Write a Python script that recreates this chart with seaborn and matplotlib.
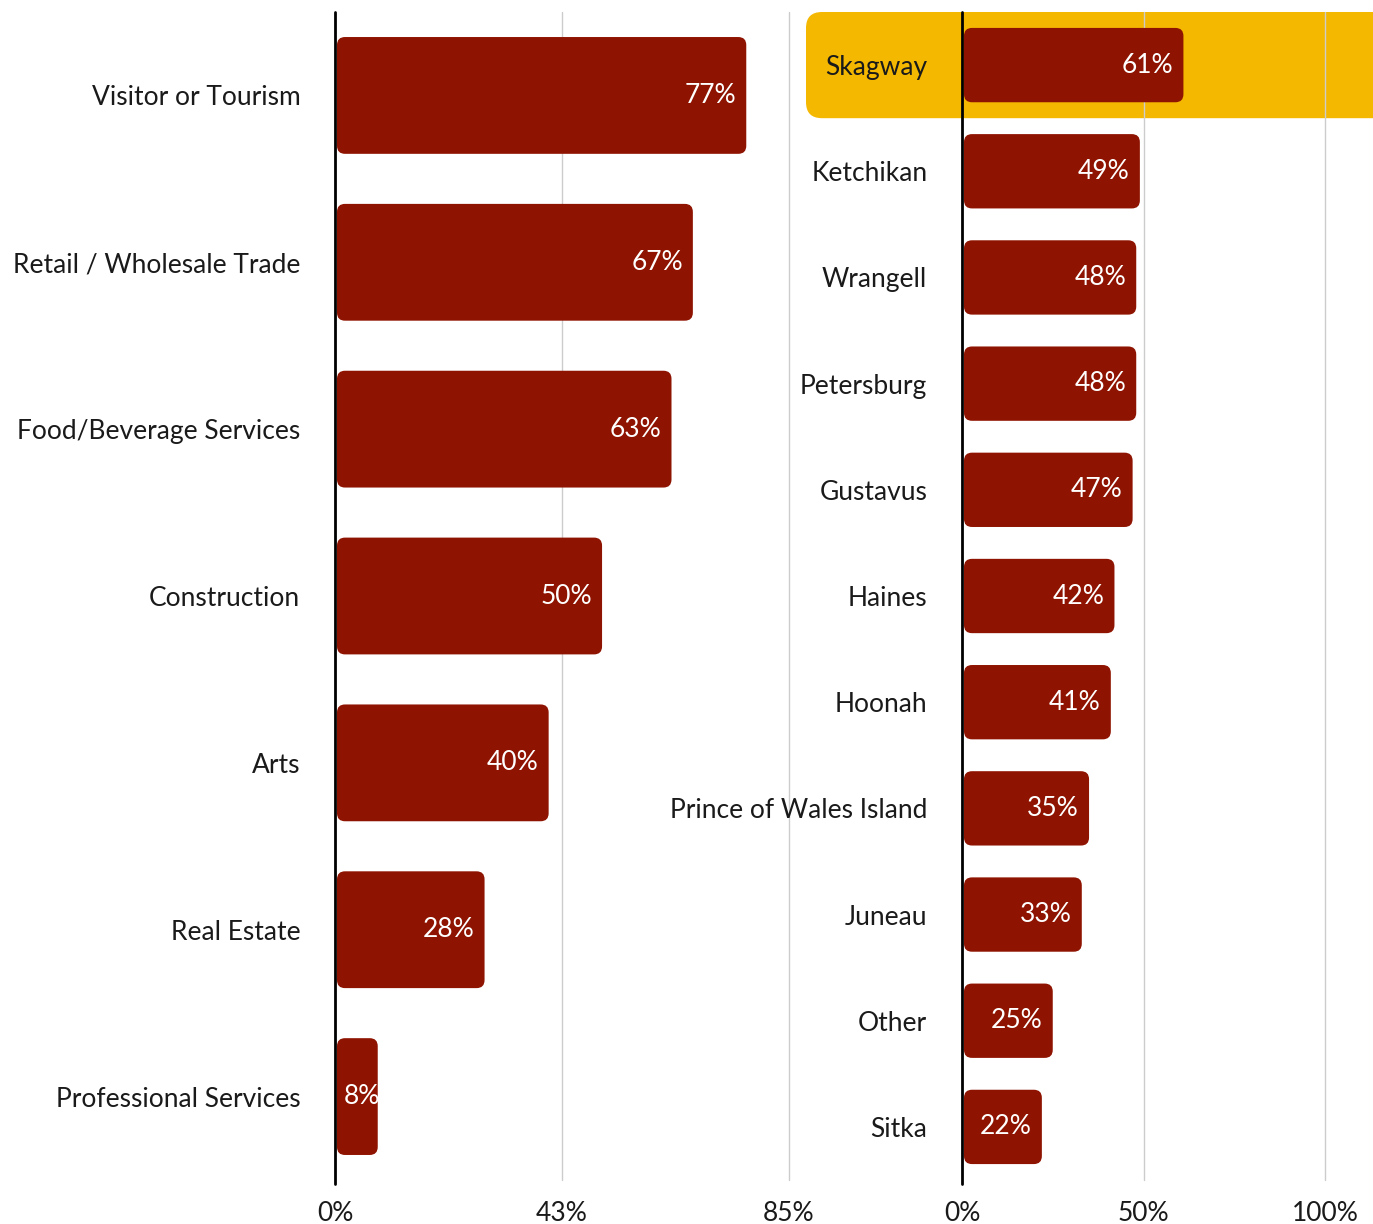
import matplotlib
matplotlib.use("Agg")
import matplotlib.pyplot as plt
import seaborn as sns
import pandas as pd
from matplotlib.patches import FancyBboxPatch
from matplotlib.transforms import IdentityTransform

# data
industries = ["Visitor or Tourism", "Retail / Wholesale Trade", "Food/Beverage Services",
              "Construction", "Arts", "Real Estate", "Professional Services"]
industry_pct = [77, 67, 63, 50, 40, 28, 8]
left_ticks = [0, 42.5, 85]

communities = ["Skagway", "Ketchikan", "Wrangell", "Petersburg", "Gustavus", "Haines",
               "Hoonah", "Prince of Wales Island", "Juneau", "Other", "Sitka"]
community_pct = [61, 49, 48, 48, 47, 42, 41, 35, 33, 25, 22]
right_ticks = [0, 50, 100]
highlight = "Skagway"

BAR = "#8E1300"
GOLD = "#F5B800"
GRID = "#CCCCCC"
TEXT = "#1A1A1A"
FS = 19

sns.set_theme(style="white")
plt.rcParams["font.family"] = ["Lato", "DejaVu Sans"]

W, H = 1373, 1224
fig = plt.figure(figsize=(W / 100, H / 100), dpi=100)
fig.patch.set_facecolor("white")

# axes placed in pixel terms
ax1 = fig.add_axes([335 / W, 44 / H, 454 / W, 1168 / H])
ax2 = fig.add_axes([962 / W, 44 / H, 411 / W, 1168 / H])


def round_bars(ax, radius_px=8):
    p0 = ax.transData.transform((0, 0))
    p1 = ax.transData.transform((1, 1))
    ux = abs(p1[0] - p0[0])
    uy = abs(p1[1] - p0[1])
    gap = 2 / ux  # small gap between the zero line and the bar
    for bar in list(ax.patches):
        x, y = bar.get_x(), bar.get_y()
        w, h = bar.get_width(), bar.get_height()
        bar.remove()
        ax.add_patch(FancyBboxPatch((x + gap, y), w - gap, h,
                                    boxstyle=f"round,pad=0,rounding_size={radius_px / ux}",
                                    mutation_aspect=ux / uy, fc=BAR, ec="none", zorder=2))
    return ux


def draw_panel(ax, labels, values, ticks, xmax):
    df = pd.DataFrame({"label": labels, "pct": values})
    sns.barplot(data=df, x="pct", y="label", orient="h", color=BAR, saturation=1,
                width=0.7, ax=ax)
    ax.set_xlim(0, xmax)
    ax.set_ylim(len(labels) - 0.5, -0.5)
    ax.patch.set_alpha(0)
    for s in ax.spines.values():
        s.set_visible(False)
    ax.set_xlabel("")
    ax.set_ylabel("")
    ax.set_xticks(ticks)
    ax.set_xticklabels([f"{round(t + 1e-9)}%" for t in ticks])
    ax.tick_params(axis="x", length=0, pad=15, labelsize=FS, labelcolor=TEXT)
    ax.tick_params(axis="y", length=0, pad=25, labelsize=FS, labelcolor=TEXT)
    for t in ticks[1:]:
        ax.axvline(t, color=GRID, lw=1, zorder=0.5, clip_on=False)
    ax.axvline(0, ymin=-0.003, ymax=1, color="black", lw=2, zorder=3, clip_on=False)

    ux = round_bars(ax)
    for i, v in enumerate(values):
        if v * ux > 60:
            ax.annotate(f"{v}%", (v, i), xytext=(-7.2, 0), textcoords="offset points",
                        ha="right", va="center", color="white", fontsize=FS, zorder=4)
        else:
            ax.annotate(f"{v}%", (0, i), xytext=(6, 0), textcoords="offset points",
                        ha="left", va="center", color="white", fontsize=FS, zorder=4)


draw_panel(ax1, industries, industry_pct, left_ticks, 85)
draw_panel(ax2, communities, community_pct, right_ticks, 411 / 3.63)

# highlight row behind Skagway
hi = communities.index(highlight)
top = ax2.transData.transform((0, hi - 0.5))
bot = ax2.transData.transform((0, hi + 0.5))
x_left = ax2.transAxes.transform((0, 0))[0] - 156
hl = FancyBboxPatch((x_left, bot[1]), W - x_left + 40, top[1] - bot[1],
                    boxstyle="round,pad=0,rounding_size=16", fc=GOLD, ec="none",
                    transform=IdentityTransform(), zorder=0.2, clip_on=False)
ax2.add_artist(hl)

fig.savefig("out.png", dpi=100, facecolor="white")
